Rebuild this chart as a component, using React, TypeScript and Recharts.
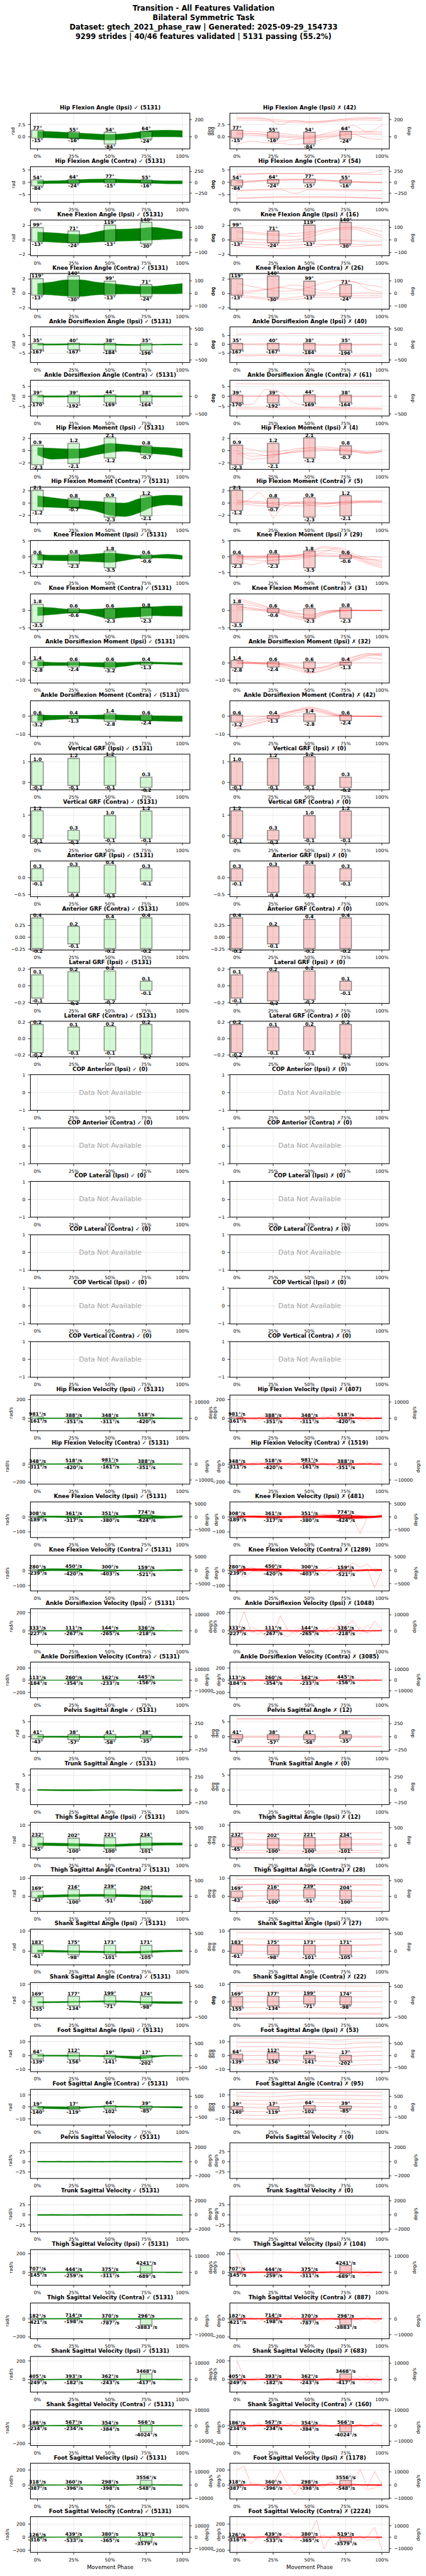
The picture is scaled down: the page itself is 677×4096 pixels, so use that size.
import React from 'react';
import { Area, CartesianGrid, ComposedChart, Label, Line, ReferenceArea, XAxis, YAxis } from 'recharts';

const ROW_NAMES = [
  'Hip Flexion Angle (Ipsi)', 'Hip Flexion Angle (Contra)', 'Knee Flexion Angle (Ipsi)', 'Knee Flexion Angle (Contra)',
  'Ankle Dorsiflexion Angle (Ipsi)', 'Ankle Dorsiflexion Angle (Contra)', 'Hip Flexion Moment (Ipsi)', 'Hip Flexion Moment (Contra)',
  'Knee Flexion Moment (Ipsi)', 'Knee Flexion Moment (Contra)', 'Ankle Dorsiflexion Moment (Ipsi)', 'Ankle Dorsiflexion Moment (Contra)',
  'Vertical GRF (Ipsi)', 'Vertical GRF (Contra)', 'Anterior GRF (Ipsi)', 'Anterior GRF (Contra)', 'Lateral GRF (Ipsi)', 'Lateral GRF (Contra)',
  'COP Anterior (Ipsi)', 'COP Anterior (Contra)', 'COP Lateral (Ipsi)', 'COP Lateral (Contra)', 'COP Vertical (Ipsi)', 'COP Vertical (Contra)',
  'Hip Flexion Velocity (Ipsi)', 'Hip Flexion Velocity (Contra)', 'Knee Flexion Velocity (Ipsi)', 'Knee Flexion Velocity (Contra)',
  'Ankle Dorsiflexion Velocity (Ipsi)', 'Ankle Dorsiflexion Velocity (Contra)', 'Pelvis Sagittal Angle', 'Trunk Sagittal Angle',
  'Thigh Sagittal Angle (Ipsi)', 'Thigh Sagittal Angle (Contra)', 'Shank Sagittal Angle (Ipsi)', 'Shank Sagittal Angle (Contra)',
  'Foot Sagittal Angle (Ipsi)', 'Foot Sagittal Angle (Contra)', 'Pelvis Sagittal Velocity', 'Trunk Sagittal Velocity',
  'Thigh Sagittal Velocity (Ipsi)', 'Thigh Sagittal Velocity (Contra)', 'Shank Sagittal Velocity (Ipsi)', 'Shank Sagittal Velocity (Contra)',
  'Foot Sagittal Velocity (Ipsi)', 'Foot Sagittal Velocity (Contra)',
];

// ang: deg labels on rad axis, vel: deg/s labels on rad/s axis, mom/grf: raw, cop: no data
const KINDS = [
  'ang', 'ang', 'ang', 'ang', 'ang', 'ang', 'mom', 'mom', 'mom', 'mom', 'mom', 'mom',
  'grf', 'grf', 'grf', 'grf', 'grf', 'grf', 'cop', 'cop', 'cop', 'cop', 'cop', 'cop',
  'vel', 'vel', 'vel', 'vel', 'vel', 'vel', 'ang', 'ang', 'ang', 'ang', 'ang', 'ang', 'ang', 'ang',
  'vel', 'vel', 'vel', 'vel', 'vel', 'vel', 'vel', 'vel',
];

const PASS_COUNTS = [
  5131, 5131, 5131, 5131, 5131, 5131, 5131, 5131, 5131, 5131, 5131, 5131, 5131, 5131, 5131, 5131, 5131, 5131,
  0, 0, 0, 0, 0, 0,
  5131, 5131, 5131, 5131, 5131, 5131, 5131, 5131, 5131, 5131, 5131, 5131, 5131, 5131, 5131, 5131, 5131, 5131, 5131, 5131, 5131, 5131,
];

const FAIL_COUNTS = [
  42, 54, 16, 26, 40, 61, 4, 5, 29, 31, 32, 42, 0, 0, 0, 0, 0, 0, 0, 0, 0, 0, 0, 0,
  407, 1519, 481, 1289, 1048, 3085, 12, 0, 12, 28, 27, 22, 53, 95, 0, 0, 104, 887, 683, 160, 1178, 2224,
];

const Y_DOMAINS = [
  [-2.43, 4.78], [-8.07, 6.31], [-2.2, 2.75], [-2.18, 2.77], [-10.3, 9.8], [-9.9, 7.95],
  [-3.1, 2.73], [-3.27, 2.56], [-6.06, 5.2], [-5.45, 4.87], [-11.5, 9.1], [-11, 8.55],
  [-0.35, 1.37], [-0.36, 1.37], [-0.565, 0.5], [-0.273, 0.484], [-0.212, 0.216], [-0.224, 0.214],
  [-1, 1], [-1, 1], [-1, 1], [-1, 1], [-1, 1], [-1, 1],
  [-131, 250], [-220, 174], [-137, 100], [-136, 99], [-150, 242], [-289, 294],
  [-4.9, 7.05], [-5, 7], [-6.4, 11.25], [-8.5, 11.3], [-6.57, 11.07], [-9.2, 11.1], [-11.4, 14.35], [-15.1, 14.7],
  [-41, 46.8], [-41.8, 46.5], [-138, 245], [-220, 174], [-136, 247], [-224, 176], [-187, 287], [-235, 310],
];

const Y_TICKS = [
  [0, 2.5], [-5, 0, 5], [-2, 0, 2], [-2, 0, 2], [-5, 0, 5], [-5, 0, 5],
  [-2, 0, 2], [-2, 0, 2], [-5, 0, 5], [-5, 0], [-10, 0], [-10, 0],
  [0, 1], [0, 1], [-0.5, 0], [-0.25, 0, 0.25], [-0.2, 0, 0.2], [-0.2, 0, 0.2],
  [-1, 0, 1], [-1, 0, 1], [-1, 0, 1], [-1, 0, 1], [-1, 0, 1], [-1, 0, 1],
  [0, 200], [-200, 0], [-100, 0], [-100, 0], [0, 200], [-200, 0, 200],
  [0, 5], [0, 5], [0, 10], [0, 10], [0, 10], [0, 10], [-10, 0, 10], [-10, 0, 10],
  [-25, 0, 25], [-25, 0, 25], [0, 200], [-200, 0], [0, 200], [-200, 0], [0, 200], [-200, 0, 200],
];

const TICK_DECIMALS = [
  1, 0, 0, 0, 0, 0, 0, 0, 0, 0, 0, 0, 0, 0, 1, 2, 1, 1, 0, 0, 0, 0, 0, 0,
  0, 0, 0, 0, 0, 0, 0, 0, 0, 0, 0, 0, 0, 0, 0, 0, 0, 0, 0, 0, 0, 0,
];

const DEG_TICKS = [
  [0, 200], [-250, 0, 250], [-100, 0, 100], [-100, 0, 100], [-500, 0, 500], [-500, 0],
  [], [], [], [], [], [], [], [], [], [], [], [], [], [], [], [], [], [],
  [0, 10000], [-10000, 0], [-5000, 0, 5000], [-5000, 0, 5000], [0, 10000], [-10000, 0, 10000],
  [-250, 0, 250], [-250, 0, 250], [0, 500], [0, 500], [0, 500], [-500, 0, 500], [-500, 0, 500], [-500, 0, 500],
  [-2000, 0, 2000], [-2000, 0, 2000], [0, 10000], [-10000, 0], [0, 10000], [-10000, 0, 10000], [-10000, 0, 10000], [-10000, 0, 10000],
];

const BOX_PHASES = [0, 25, 50, 75];

const BOX_HI = [
  [77, 55, 54, 64], [54, 64, 77, 55], [99, 71, 119, 140], [119, 140, 99, 71], [35, 40, 38, 35], [39, 39, 44, 38],
  [0.9, 1.2, 2.1, 0.8], [2.1, 0.8, 0.9, 1.2], [0.6, 0.8, 1.8, 0.6], [1.8, 0.6, 0.6, 0.8], [1.4, 0.6, 0.6, 0.4], [0.6, 0.4, 1.4, 0.6],
  [1.0, 1.16, 1.24, 0.26], [1.21, 0.26, 0.98, 1.2], [0.27, 0.33, 0.38, 0.27], [0.41, 0.23, 0.38, 0.41], [0.133, 0.17, 0.179, 0.056], [0.175, 0.143, 0.152, 0.175],
  [], [], [], [], [], [],
  [981, 388, 348, 518], [348, 518, 981, 388], [308, 361, 351, 774], [280, 450, 300, 159], [333, 111, 144, 336], [113, 260, 162, 445],
  [41, 38, 41, 38], [], [232, 202, 221, 234], [169, 216, 239, 204], [183, 175, 173, 171], [169, 177, 199, 174], [64, 112, 19, 17], [19, 17, 64, 39],
  [], [], [707, 444, 375, 4241], [182, 714, 370, 296], [405, 393, 362, 3468], [186, 567, 354, 566], [318, 360, 298, 3556], [126, 439, 380, 519],
];

const BOX_LO = [
  [-15, -16, -84, -24], [-84, -24, -15, -16], [-13, -24, -13, -30], [-13, -30, -13, -24], [-167, -167, -184, -196], [-170, -192, -169, -164],
  [-2.3, -2.1, -1.2, -0.7], [-1.2, -0.7, -2.3, -2.1], [-2.3, -2.3, -3.5, -0.6], [-3.5, -0.6, -2.3, -2.3], [-2.8, -2.4, -3.2, -1.3], [-3.2, -1.3, -2.8, -2.4],
  [-0.14, -0.14, -0.14, -0.24], [-0.14, -0.21, -0.12, -0.12], [-0.1, -0.44, -0.47, -0.1], [-0.24, -0.14, -0.24, -0.24], [-0.146, -0.18, -0.165, -0.055], [-0.17, -0.148, -0.148, -0.19],
  [], [], [], [], [], [],
  [-161, -351, -311, -420], [-311, -420, -161, -351], [-189, -317, -380, -424], [-239, -420, -403, -521], [-227, -267, -265, -218], [-184, -354, -233, -156],
  [-43, -57, -58, -35], [], [-45, -100, -100, -101], [-43, -100, -51, -100], [-61, -98, -101, -105], [-155, -134, -71, -98], [-139, -156, -141, -202], [-140, -119, -102, -85],
  [], [], [-145, -259, -311, -689], [-421, -198, -787, -3883], [-249, -182, -243, -417], [-234, -234, -384, -4024], [-387, -396, -398, -548], [-316, -533, -365, -3579],
];

// passing-stride envelope, 11 phase samples (0..100%)
const BAND_HI = [
  [1.15, 1.05, 0.9, 0.75, 0.6, 0.5, 0.65, 1.0, 1.3, 1.35, 1.25],
  [0.5, 0.6, 0.8, 1.1, 1.3, 1.3, 1.2, 1.0, 0.8, 0.6, 0.6],
  [1.1, 1.0, 0.85, 0.75, 1.1, 1.45, 1.5, 1.6, 1.75, 1.5, 1.15],
  [1.4, 1.6, 1.9, 1.9, 1.6, 1.4, 1.2, 1.0, 1.0, 1.2, 1.4],
  [0.3, 0.3, 0.4, 0.4, 0.3, 0.3, 0.1, 0.0, 0.1, 0.2, 0.2],
  [0.3, 0.3, 0.3, 0.3, 0.4, 0.4, 0.3, 0.3, 0.3, 0.3, 0.3],
  [0.5, 0.4, 0.3, 0.3, 0.7, 1.2, 1.0, 0.8, 0.6, 0.5, 0.3],
  [1.2, 0.9, 0.6, 0.4, 0.3, 0.1, 0.0, 0.7, 1.1, 1.3, 1.2],
  [0.8, 0.5, 0.5, 0.6, 0.9, 1.2, 0.8, 0.4, 0.5, 0.8, 0.4],
  [1.0, 0.8, 0.4, 0.3, 0.4, 0.6, 0.8, 1.0, 1.1, 1.3, 1.3],
  [0.8, 0.3, 0.2, 0.2, 0.2, 0.2, 0.3, 0.6, 0.5, 0.3, 0.2],
  [0.8, 0.5, 0.5, 0.5, 0.6, 0.8, 0.6, 0.4, 0.3, 0.2, 0.1],
  [], [], [], [], [], [], [], [], [], [], [], [],
  [4, 5, 5, 4, 4, 4, 5, 6, 6, 5, 4],
  [4, 5, 6, 6, 5, 4, 4, 4, 5, 5, 4],
  [5, 6, 5, 4, 4, 5, 9, 12, 9, 5, 9],
  [5, 11, 10, 9, 5, 2, 3, 3, 3, 5, 7],
  [3, 3, 3, 3, 3, 3, 4, 6, 5, 4, 3],
  [3, 3, 4, 4, 3, 3, 3, 3, 3, 3, 3],
  [0.25, 0.2, 0.2, 0.15, 0.15, 0.15, 0.15, 0.2, 0.2, 0.2, 0.2],
  [0.2, 0.15, 0.1, 0.1, 0.15, 0.2, 0.2, 0.15, 0.1, 0.15, 0.2],
  [1.2, 1.1, 1.0, 0.8, 0.6, 0.5, 0.7, 1.0, 1.2, 1.2, 1.2],
  [0.6, 0.8, 1.0, 1.1, 1.2, 1.1, 1.0, 0.8, 0.6, 0.5, 0.5],
  [0.6, 0.5, 0.3, 0.2, 0.1, 0.0, -0.1, 0.0, 0.3, 0.5, 0.6],
  [0.1, 0.1, 0.3, 0.4, 0.5, 0.6, 0.5, 0.3, 0.2, 0.1, 0.1],
  [0.3, 0.4, 0.4, 0.3, 0.2, 0.1, -0.3, -0.5, 0.0, 0.3, 0.2],
  [0.2, 0.1, 0.0, 0.0, 0.4, 0.6, 0.6, 0.4, 0.3, 0.2, 0.1],
  [1, 1.2, 1, 1.3, 1, 1.1, 1.2, 1, 1.3, 1.1, 1],
  [1.2, 1.4, 1.1, 1.5, 1.3, 1.2, 1.4, 1.6, 1.3, 1.2, 1.1],
  [4, 4, 5, 5, 4, 4, 5, 8, 6, 5, 4],
  [4, 5, 6, 5, 4, 4, 4, 3, 4, 5, 5],
  [4, 4, 5, 5, 4, 4, 5, 7, 6, 5, 4],
  [4, 5, 6, 5, 4, 4, 4, 3, 4, 5, 5],
  [4, 4, 4, 4, 4, 4, 6, 10, 8, 6, 4],
  [4, 4, 6, 5, 4, 4, 4, 4, 5, 5, 4],
];

const BAND_LO = [
  [-0.1, -0.2, -0.3, -0.4, -0.55, -0.65, -0.5, -0.25, 0.0, 0.0, -0.05],
  [-0.6, -0.5, -0.4, -0.2, -0.1, -0.1, -0.2, -0.3, -0.4, -0.6, -0.6],
  [-0.2, -0.3, -0.4, -0.4, -0.3, -0.2, -0.15, -0.1, 0.0, 0.1, 0.2],
  [-0.1, -0.2, -0.35, -0.4, -0.2, -0.1, -0.05, -0.05, -0.05, -0.05, 0.0],
  [-0.4, -0.4, -0.3, -0.2, -0.3, -0.4, -0.6, -0.6, -0.4, -0.3, -0.3],
  [-0.4, -0.4, -0.3, -0.3, -0.3, -0.2, -0.3, -0.3, -0.3, -0.3, -0.3],
  [-0.7, -1.4, -1.3, -1.2, -0.7, -0.3, -0.1, -0.3, -0.5, -0.7, -1.1],
  [-0.6, -0.7, -0.8, -0.9, -1.3, -2.0, -2.2, -1.6, -0.6, -0.3, -0.5],
  [-1.0, -1.2, -1.3, -1.4, -1.6, -1.8, -1.2, -0.5, -0.4, -0.5, -0.8],
  [-1.5, -1.2, -0.8, -0.7, -1.5, -2.3, -2.0, -1.8, -1.5, -1.6, -1.7],
  [-2.0, -1.5, -1.5, -1.6, -2.2, -2.6, -2.0, -0.8, -0.6, -0.8, -1.2],
  [-2.5, -2.0, -1.5, -1.3, -1.5, -1.8, -2.2, -2.4, -2.6, -2.8, -2.9],
  [], [], [], [], [], [], [], [], [], [], [], [],
  [-5, -4, -4, -4, -5, -5, -4, -4, -5, -5, -5],
  [-4, -4, -3, -3, -4, -5, -5, -4, -4, -4, -4],
  [-4, -3, -5, -6, -5, -4, -6, -8, -11, -8, -2],
  [-6, -3, -4, -5, -6, -6, -4, -4, -4, -3, -2],
  [-4, -4, -4, -4, -5, -6, -6, -3, -3, -4, -3],
  [-3, -3, -3, -3, -4, -4, -4, -3, -3, -3, -3],
  [-0.2, -0.2, -0.25, -0.3, -0.3, -0.3, -0.3, -0.25, -0.3, -0.35, -0.35],
  [-0.2, -0.25, -0.3, -0.3, -0.25, -0.2, -0.2, -0.25, -0.35, -0.4, -0.35],
  [0.0, -0.2, -0.3, -0.4, -0.5, -0.6, -0.4, -0.2, 0.0, 0.1, 0.1],
  [-0.5, -0.4, -0.2, -0.1, 0.0, -0.1, -0.2, -0.3, -0.4, -0.5, -0.5],
  [-0.3, -0.4, -0.5, -0.6, -0.7, -0.8, -0.9, -0.9, -0.6, -0.3, -0.2],
  [-0.6, -0.5, -0.4, -0.3, -0.2, -0.2, -0.3, -0.5, -0.8, -1.0, -1.0],
  [-0.4, -0.4, -0.5, -0.5, -0.6, -0.9, -1.8, -2.3, -1.2, -0.4, -0.4],
  [-1.2, -1.6, -1.8, -1.4, -0.5, -0.3, -0.3, -0.5, -0.6, -0.8, -1.0],
  [-1, -1.1, -1.3, -1, -1.2, -1, -1.1, -1.3, -1, -1.2, -1],
  [-1.2, -1.3, -1.5, -1.2, -1.4, -1.3, -1.2, -1.5, -1.4, -1.2, -1.3],
  [-4, -4, -3, -3, -4, -5, -4, -2, -3, -4, -4],
  [-5, -4, -3, -3, -4, -5, -5, -6, -5, -4, -4],
  [-4, -4, -3, -3, -4, -5, -4, -3, -3, -4, -4],
  [-5, -4, -3, -3, -4, -5, -5, -6, -5, -4, -4],
  [-5, -5, -4, -4, -6, -8, -5, -2, -4, -6, -8],
  [-6, -5, -3, -3, -4, -4, -4, -4, -4, -4, -6],
];

// stray passing strides (thin light green), samples spread evenly over 0..100%
const GREEN_LINES: number[][][] = [
  [], [], [], [], [], [], [], [], [], [], [], [], [], [], [], [], [], [], [], [], [], [], [], [],
  [], [], [],
  [[0, 3, 5, 2, 0, -2, 0, 3, 2, 0, -1, 0, 2, 3, 1, 0, -5, -30, -3, 2, -20]],
  [[0, 0, 0, 0, 0, 0, 0, 0, 0, 0, 0, 0, 0, 0, 0, 0, 0, 0, 68, 0, 0]],
  [], [], [], [], [], [], [], [], [],
  [[0, 2, -1, 3, -2, 1, -3, 2, 0, -2, 1, 3, -1, 0, 2, -3, 1, 0, -2, 1, 0]],
  [[0, -2, 3, -1, 4, -2, 1, -4, 2, 0, 3, -3, 1, 2, -1, 0, 3, -2, 1, -1, 0]],
  [], [], [], [],
  [[0, 0, 0, 0, 0, 0, 0, 0, 0, 0, 0, 0, 0, 0, 0, 0, 0, 0, 70, 0, 0]],
  [],
];

// failing strides (thin red), samples spread evenly over 0..100%
const RED_LINES: number[][][] = [
  [
    [3.7, 3.7, 3.6, 3.4, 3.2, 3.0, 3.1, 3.4, 3.6, 3.7, 3.6],
    [3.4, 3.4, 3.3, 3.1, 2.9, 2.8, 2.9, 3.2, 3.4, 3.4, 3.3],
    [3.9, 3.9, 3.7, 2.5, 3.3, 3.1, 3.2, 3.5, 3.8, 3.9, 3.8],
    [1.2, 1.1, 0.9, 0.7, 0.4, 0.2, 0.4, 0.8, 1.1, 1.1, 1.0],
    [0.8, 0.7, 0.5, 0.3, 0.1, -0.1, 0.1, 0.5, 0.8, 0.8, 0.7],
    [0.4, 0.3, 0.2, 0.0, -0.2, -0.3, -0.1, 0.3, 0.5, 0.5, 0.4],
    [-1.5, -0.9, -1.2, -1.3, -1.6, -1.1, -0.5, 0.2, 0.5, -0.3, -0.5],
    [0.6, 0.6, 0.4, -0.9, -0.5, -0.2, 0.6, 1.3, 2.3, 1.0, 2.4],
  ],
  [
    [3.0, 3.2, 3.4, 3.5, 3.5, 3.5, 3.5, 3.4, 3.3, 3.2, 3.1],
    [3.4, 3.5, 3.6, 3.6, 3.6, 3.6, 3.6, 3.6, 3.7, 3.8, 5.0],
    [0.0, 0.4, 0.8, 1.0, 1.1, 1.0, 0.8, 0.5, 0.2, 0.0, -0.1],
    [-0.3, 0.2, 0.6, 0.8, 0.9, 0.8, 0.6, 0.3, 0.0, -0.2, -0.3],
    [0.3, 0.6, 0.9, 1.2, 1.3, 1.2, 1.0, 0.7, 0.4, 0.2, 0.1],
    [-3.3, -3.0, -2.8, -2.6, -2.6, -2.6, -2.7, -2.8, -2.9, -3.1, -3.3],
    [-3.5, -3.3, -3.1, -3.0, -4.5, -3.0, -3.2, -3.3, -3.4, -3.5, -3.4],
    [-6.3, -6.1, -5.9, -5.8, -5.8, -5.8, -5.8, -5.9, -6.0, -6.2, -6.4],
    [-6.6, -6.4, -6.2, -6.1, -6.1, -6.1, -6.1, -6.1, -6.2, -6.4, -6.6],
  ],
  [
    [1.0, 0.9, 0.7, 0.6, 0.5, 0.8, 1.3, 1.6, 1.7, 1.3, 0.6],
    [0.2, 0.1, 0.0, -0.1, 0.0, 0.4, 1.0, 1.4, 1.5, 1.0, 0.3],
    [-0.2, -0.3, -0.4, -0.4, -0.3, -0.2, -0.1, 0.0, -0.1, -0.2, -0.2],
    [-0.6, -0.6, -0.7, -0.8, -0.7, -0.6, -0.6, -0.7, -0.9, -0.8, -0.6],
    [1.2, 1.1, 0.9, 0.8, 0.9, 1.1, 1.4, 1.7, 1.8, 1.6, 1.2],
    [-0.9, -1.0, -1.1, -1.2, -1.1, -1.0, -0.8, -0.6, -0.6, -0.7, -0.8],
  ],
  [
    [-0.2, -0.4, -0.6, -0.7, -0.5, -0.3, -0.2, -0.2, -0.3, -0.3, -0.3],
    [0.0, 0.2, 0.5, 0.8, 0.6, 0.3, 0.1, 0.0, 0.0, 0.1, 0.0],
    [1.4, 1.0, 0.6, 0.3, 0.4, 0.9, 1.5, 1.8, 1.6, 1.2, 0.9],
    [-0.5, -0.6, -0.8, -0.9, -0.8, -0.6, -0.5, -0.5, -0.6, -0.6, -0.5],
    [0.3, 0.4, 0.6, 0.9, 1.2, 0.8, 0.4, 1.1, 1.7, 0.6, 0.2],
  ],
  [
    [5.9, 5.9, 6.0, 6.0, 6.1, 6.1, 6.0, 6.0, 6.0, 6.1, 6.1],
    [0.3, 0.3, 0.4, 0.4, 0.3, 0.2, 0.0, -0.1, 0.1, 0.2, 0.2],
    [-0.3, -0.2, -0.2, -0.1, -0.3, -0.4, -0.6, -0.5, -0.4, -0.3, -0.3],
    [-5.9, -5.9, -5.8, -5.8, -5.9, -6.0, -6.1, -6.2, -6.1, -6.0, -6.0],
    [-6.5, -6.5, -6.4, -6.4, -6.5, -6.6, -6.7, -6.8, -6.7, -6.6, -6.6],
  ],
  [
    [6.3, 6.3, 6.2, 6.2, 6.2, 6.2, 6.2, 6.3, 6.3, 6.3, 6.3],
    [0.2, 0.3, 0.4, 0.4, 0.3, 0.2, 0.1, 0.1, 0.2, 0.2, 0.2],
    [-0.2, -0.1, 0.0, 0.0, -0.1, -0.2, -0.3, -0.3, -0.2, -0.2, -0.2],
    [-5.5, -5.6, -5.6, -5.7, -5.7, -5.8, -5.8, -5.9, -5.9, -5.9, -6.0],
    [-6.3, -6.3, -6.4, -6.4, -6.5, -6.5, -6.5, -6.6, -6.6, -6.6, -6.7],
    [-4.2, -4.0, 3.5, 2.0, -3.5, -4.5, -5.5, -5.6, -5.8, -5.9, -6.0],
  ],
  [
    [0.1, -0.9, -0.8, -0.5, -0.2, 0.1, 0.3, 0.2, 0.0, -0.3, -0.2],
    [-0.3, -1.4, -1.2, -0.6, 0.0, 0.4, 0.2, 0.0, -0.2, -0.5, -0.1],
    [0.5, 0.2, -0.2, -0.1, 0.3, 0.5, 0.6, 0.4, 0.2, -0.2, 0.2],
    [-0.5, -0.4, -0.8, -0.5, -0.3, -0.1, 0.0, 0.1, -0.1, -0.4, 0.0],
  ],
  [
    [0.0, 0.2, 0.8, 1.7, 0.5, -2.4, -1.0, -0.3, 0.0, 0.2, 0.2, 0.1, 0.0, 0.0, 0.1, 0.2, 0.2, 0.3, 0.2, 0.2, 0.2],
    [0.3, 0.2, 0.0, -0.3, -0.5, -0.4, -0.2, 0.0, 0.2, 0.3, 0.4],
    [-0.2, -0.3, -0.5, -0.2, 0.0, -0.3, -0.6, -0.3, 0.0, 0.1, 0.2],
    [0.1, 0.0, -0.1, 0.1, 0.2, 0.1, 0.0, 0.2, 0.4, 0.4, 0.3],
    [0.5, 0.3, 0.2, 0.0, 0.0, -0.1, -0.1, 0.0, 0.1, 0.2, 0.1],
  ],
  [
    [0.0, -0.3, -0.2, 0.0, 0.3, 1.5, 3.2, 2.5, 0.5, -1.5, -2.5],
    [-0.2, -0.5, -0.4, -0.2, 0.2, 1.2, 2.8, 2.0, 0.0, -1.8, -3.0],
    [0.2, 0.0, 0.1, 0.2, 0.5, 1.0, 2.0, 1.5, 0.3, -1.0, -2.0],
    [-0.5, -1.0, -1.2, -1.0, -0.8, -0.2, 1.0, 0.8, -0.5, -2.2, -3.5],
    [0.0, 0.1, 0.0, -0.1, 0.0, 0.5, 1.5, 2.8, 1.0, -0.5, -1.5],
    [-1.0, -2.5, -1.5, -0.8, -0.3, 0.0, 0.5, 0.2, -0.2, -0.8, -1.0],
    [0.3, 0.2, 0.3, 0.3, 0.4, 0.3, 0.2, 0.1, 0.0, 0.0, -0.2],
  ],
  [
    [3.0, 2.0, 1.0, 0.0, -1.0, -2.2, -0.5, 0.0, 0.0, 0.1, 0.0],
    [2.0, 1.5, 0.5, -0.5, -1.5, -2.6, -1.0, -0.2, 0.0, 0.0, 0.0],
    [1.0, 0.8, 0.0, -0.8, -1.8, -2.0, -0.8, -0.1, 0.1, 0.0, 0.0],
    [3.5, 2.5, 1.2, 0.3, -0.5, -1.5, -0.3, 0.1, 0.2, 0.1, 0.1],
    [0.5, 0.3, -0.3, -1.0, -2.2, -2.8, -1.2, -0.3, 0.0, 0.0, 0.0],
    [1.5, 0.5, 0.2, -0.2, -0.8, -1.2, -0.4, 0.0, 0.0, 0.0, 0.0],
  ],
  [
    [0.5, 0.0, -0.3, -0.5, -2.0, -4.5, -3.0, -1.0, 2.0, 4.5, 5.0],
    [1.0, 0.2, 0.0, -1.0, -3.0, -5.5, -4.0, -1.5, 1.5, 4.0, 4.5],
    [0.0, -0.2, -0.5, -1.0, -2.5, -3.5, -2.0, 0.0, 3.0, 5.5, 4.0],
    [2.5, 0.5, -0.2, -0.5, -1.5, -3.0, -2.5, 0.5, 3.5, 5.0, 5.5],
    [0.0, 0.0, 0.0, 0.0, 0.0, 0.0, 0.0, 0.0, 0.0, 0.0, 0.0],
    [-0.5, -0.5, -1.0, -2.0, -4.0, -6.0, -4.5, -2.0, 1.0, 3.0, 2.0],
  ],
  [
    [-5.0, -3.5, -1.5, 0.5, 3.0, 4.5, 3.0, 0.5, 0.0, 0.0, 0.0],
    [-6.5, -4.5, -2.5, 0.0, 2.5, 4.0, 2.0, 0.2, 0.0, 0.0, 0.0],
    [-3.5, -2.5, -1.0, 1.0, 3.5, 5.0, 3.5, 1.0, 0.1, 0.0, 0.0],
    [-7.0, -5.0, -3.0, -1.0, 1.5, 3.0, 1.5, 0.0, 0.0, 0.0, -0.5],
    [-2.5, -1.5, 0.0, 1.5, 3.0, 3.5, 2.5, 0.5, 0.0, 0.0, 0.0],
    [0.0, 0.0, 0.0, 0.0, 0.0, 0.0, 0.0, 0.0, 0.0, 0.0, -0.3],
  ],
  [], [], [], [], [], [], [], [], [], [], [], [],
  [
    [0, 15, -20, 10, 30, -10, 0, 20, -30, 10, 0, -15, 25, 0, -20, 10, 40, -25, 15, 0, 10],
    [10, -10, 5, -25, 0, 20, -15, 0, 10, -20, 15, 0, -10, 30, 0, -15, 0, 20, -30, 10, 0],
  ],
  [
    [0, -20, 10, 25, -10, 0, 15, -30, 0, 20, -10, 35, 0, -20, 10, 0, -25, 15, 0, 30, -10],
    [5, 10, -15, 0, 20, -25, 0, 10, 30, -10, 0, -20, 15, 0, -30, 20, 0, -10, 25, -15, 0],
  ],
  [
    [0, 2, 5, -8, 3, 0, -20, 5, 10, -5, 0, 8, 15, 20, 5, 0, -10, -112, 0, 5, 10],
    [5, 10, -5, 0, 3, -15, 10, 0, -5, 10, 15, -5, 0, 10, -5, 10, 25, 5, -5, 0, 15],
    [0, -5, 8, 10, 0, 5, -10, -15, 5, 0, -5, 10, 20, 0, -10, -5, 0, 10, 5, -5, 0],
  ],
  [
    [0, -45, -10, 5, 0, 60, -5, 0, 5, -30, -10, 5, -35, 0, 5, 10, 50, 20, 40, -10, 0],
    [5, 20, 0, -10, 5, 0, -15, 10, 0, -25, 0, 10, 5, 20, -20, 0, -15, 0, 10, -115, 0],
    [0, 10, 20, 5, -5, 15, 5, -10, 15, 0, 20, -5, 0, -10, 10, 30, 0, -10, 0, 10, 5],
  ],
  [
    [0, 210, -20, 10, 0, -40, 165, 0, -30, 10, 0, -10, 20, -50, 10, 60, 110, 0, -20, 105, 10],
    [10, -30, 40, 0, -60, 10, 0, 20, -10, 0, -40, 30, -20, 0, 80, 20, -60, 40, -30, 10, 0],
    [-10, 20, 0, -40, 30, 0, -20, -70, 10, 30, 0, -30, 0, 40, 0, -80, 30, -40, 60, -10, 15],
  ],
  [
    [0, 10, -20, 15, 0, -10, 20, -15, 30, 100, -130, 40, -20, 10, 30, -10, 40, 0, -20, 10, 0],
    [5, -10, 15, 0, -20, 10, 0, 20, -10, 0, 40, -30, 0, 20, -10, 30, 0, -15, 10, -5, 5],
  ],
  [
    [6.1, 6.1, 6.1, 6.1, 6.1, 6.1, 6.1, 6.1, 6.1, 6.2, 6.2],
    [5.8, 5.8, 5.8, 5.9, 5.9, 5.9, 5.9, 5.9, 5.9, 5.9, 6.0],
    [0.2, 0.2, 0.2, 0.1, 0.1, 0.1, 0.1, 0.1, 0.2, 0.2, 0.2],
    [-0.2, -0.2, -0.2, -0.2, -0.3, -0.3, -0.3, -0.2, -0.2, -0.2, -0.2],
    [-3.2, -3.2, -3.2, -3.2, -3.2, -3.2, -3.2, -3.2, -3.2, -3.2, -3.2],
    [-3.4, -3.4, -3.4, -3.4, -3.5, -3.5, -3.5, -3.4, -3.4, -3.4, -3.4],
  ],
  [],
  [
    [6.2, 6.1, 6.0, 6.0, 5.9, 5.9, 6.0, 6.1, 6.2, 6.2, 6.2],
    [3.0, 2.9, 2.8, 2.8, 2.7, 2.7, 2.8, 2.9, 3.0, 3.0, 3.0],
    [0.8, 0.7, 0.6, 0.5, 0.3, 0.2, 0.4, 0.6, 0.8, 0.9, 0.9],
    [-2.5, -2.6, -2.7, -2.7, -2.8, -2.9, -2.8, -2.7, -2.6, -2.5, -2.5],
    [-3.6, -3.7, -3.7, -3.8, -3.9, -3.9, -3.8, -3.7, -3.6, -3.6, -3.6],
    [0.2, 0.1, 0.0, -0.1, -0.2, -0.3, -0.1, 0.1, 0.3, 0.3, 0.3],
  ],
  [
    [9.4, 9.4, 9.5, 9.5, 9.5, 9.5, 9.4, 9.4, 9.3, 9.3, 9.3],
    [6.3, 6.4, 6.5, 6.5, 6.5, 6.5, 6.4, 6.3, 6.3, 6.2, 6.2],
    [6.6, 6.7, 6.8, 6.8, 6.8, 6.7, 6.6, 6.6, 6.5, 6.5, 6.5],
    [3.2, 3.3, 3.4, 3.4, 3.4, 3.4, 3.3, 3.2, 3.1, 3.1, 3.1],
    [0.1, 0.3, 0.5, 0.6, 0.6, 0.6, 0.5, 0.3, 0.2, 0.1, 0.1],
    [-3.2, -3.0, -2.9, -2.8, -2.8, -2.8, -2.9, -3.0, -3.1, -3.2, -3.2],
    [-6.4, -6.2, -6.1, -6.0, -6.0, -6.0, -6.1, -6.2, -6.3, -6.4, -6.4],
  ],
  [
    [9.2, 9.2, 9.1, 9.0, 9.0, 8.9, 8.9, 8.9, 9.0, 9.1, 9.2],
    [6.1, 6.1, 6.0, 5.9, 5.9, 5.8, 5.8, 5.8, 5.9, 6.0, 6.1],
    [3.0, 3.0, 2.9, 2.8, 2.8, 2.7, 2.7, 2.7, 2.8, 2.9, 3.0],
    [3.4, 3.3, 3.2, 3.1, 3.1, 3.0, 3.0, 3.1, 3.2, 3.3, 3.5],
    [0.1, 0.0, -0.1, -0.2, -0.3, -0.4, -0.5, -0.5, -0.3, -0.1, 0.0],
    [-3.2, -3.3, -3.4, -3.5, -3.5, -3.6, -3.7, -3.7, -3.5, -3.4, -3.3],
  ],
  [
    [9.0, 9.0, 9.0, 9.1, 9.1, 9.1, 9.0, 9.0, 8.9, 8.9, 9.0],
    [6.0, 6.0, 6.0, 6.1, 6.1, 6.1, 6.0, 6.0, 5.9, 5.9, 6.0],
    [3.0, 3.0, 3.0, 3.1, 3.1, 3.1, 3.0, 3.0, 2.9, 2.9, 3.0],
    [-0.1, -0.1, 0.0, 0.1, 0.2, 0.2, 0.1, 0.0, -0.1, -0.2, -0.1],
    [-3.3, -3.3, -3.2, -3.1, -3.1, -3.1, -3.2, -3.3, -3.4, -3.4, -3.3],
    [-6.4, -6.4, -6.3, -6.2, -6.2, -6.2, -6.3, -6.4, -6.5, -6.5, -6.4],
    [-7.0, -7.0, -6.9, -6.8, -6.8, -6.8, -6.9, -7.0, -7.1, -7.1, -7.0],
  ],
  [
    [12.6, 12.7, 12.7, 12.6, 12.4, 12.2, 11.6, 11.2, 12.0, 12.5, 12.6],
    [9.4, 9.5, 9.5, 9.4, 9.2, 9.0, 8.4, 8.0, 8.8, 9.3, 9.4],
    [6.3, 6.4, 6.4, 6.3, 6.1, 5.9, 5.3, 4.9, 5.7, 6.2, 6.3],
    [3.1, 3.2, 3.2, 3.1, 2.9, 2.7, 2.1, 1.7, 2.5, 3.0, 3.1],
    [0.1, 0.2, 0.2, 0.1, -0.1, -0.3, -0.9, -1.3, -0.5, 0.0, 0.1],
    [-3.1, -3.0, -3.0, -3.1, -3.3, -3.5, -4.1, -4.5, -3.7, -3.2, -3.1],
    [-6.3, -6.2, -6.2, -6.3, -6.5, -6.7, -7.3, -7.7, -6.9, -6.4, -6.3],
  ],
  [
    [12.1, 11.8, 11.6, 11.9, 12.6, 12.9, 12.9, 12.7, 12.6, 12.4, 12.2],
    [8.9, 8.6, 8.4, 8.7, 9.4, 9.7, 9.7, 9.5, 9.4, 9.2, 9.0],
    [5.8, 5.5, 5.3, 5.6, 6.3, 6.6, 6.6, 6.4, 6.3, 6.1, 5.9],
    [2.6, 2.3, 2.1, 2.4, 3.1, 3.4, 3.4, 3.2, 3.1, 2.9, 2.7],
    [-0.5, -0.8, -1.0, -0.7, 0.0, 0.3, 0.3, 0.1, 0.0, -0.2, -0.4],
    [-3.6, -3.9, -4.1, -3.8, -3.1, -2.8, -2.8, -3.0, -3.1, -3.3, -3.5],
    [-6.8, -7.1, -7.3, -7.0, -6.3, -6.0, -6.0, -6.2, -6.3, -6.5, -6.7],
    [-9.9, -10.2, -10.4, -10.1, -9.4, -9.1, -9.1, -9.3, -9.4, -9.6, -9.8],
  ],
  [], [],
  [
    [200, 10, -10, 20, 0, -15, 10, 0, -20, 15, 0, -10, 20, -5, 10, -30, 15, 25, -40, 10, 5],
    [0, -20, 15, 0, 10, -10, 0, 25, 0, -15, 20, 0, -10, 15, -20, 5, 40, -20, 10, -5, 0],
  ],
  [
    [0, -10, 20, -30, 10, 0, -20, 40, -10, 0, 25, -35, 10, 0, -15, 20, -25, 10, 0, -10, 5],
    [5, 15, -10, 0, -25, 20, 0, -15, 30, -20, 0, 10, -30, 20, 0, -10, 15, -20, 30, -40, 0],
  ],
  [
    [200, 20, -10, 0, 15, -20, 10, 0, -15, 20, 0, -10, 15, 0, -20, 10, 30, -20, 40, -50, 20],
    [0, -15, 10, 25, -10, 0, -25, 15, 0, -10, 20, -15, 0, 25, -10, 0, -20, 35, -40, 30, -30],
  ],
  [
    [0, 15, -20, 10, 0, -30, 20, -10, 40, -50, 10, 0, 20, -15, 0, 30, -20, 10, -10, 25, 0],
    [10, -10, 0, 25, -15, 0, -20, 30, -10, 0, -40, 20, 0, -10, 15, -25, 0, 20, -30, 40, -10],
  ],
  [
    [200, 250, 0, 20, -20, 10, 190, 0, -130, 40, 0, -20, 10, 30, -20, 0, 60, 210, -30, 180, 10],
    [0, -20, 30, 0, -30, 20, 0, -60, 10, -40, 20, 0, -30, 40, 0, -50, 20, 0, -60, -40, 20],
  ],
  [
    [0, -10, -100, 20, 0, 30, -30, 60, -20, 10, 40, 260, -180, 30, 0, -20, 20, -40, 10, 150, -190],
    [10, 20, 0, -30, 40, -10, 50, 0, -40, 20, -50, 0, 30, -20, 50, 0, -30, 20, -50, -30, 0],
  ],
];

const TITLE_LINES = [
  'Transition - All Features Validation',
  'Bilateral Symmetric Task',
  'Dataset: gtech_2021_phase_raw | Generated: 2025-09-29_154733',
  '9299 strides | 40/46 features validated | 5131 passing (55.2%)',
];

const PHASE_TICKS = [0, 25, 50, 75, 100];

const S = 677 / 1301;
const R2D = 180 / Math.PI;
const FONT = '"DejaVu Sans", Verdana, sans-serif';
const PLOT_LEFT = [93 * S, 702 * S];
const PW = 487 * S;
const PH = 109 * S;
const rowTop = (r: number) => (346 + r * 163.2) * S;
const WL = 44;
const WR = 44;
const HX = 20;
const MT = 14;
const FS_TICK = 7.4;

const tickStyle = { fontSize: FS_TICK, fill: '#000', fontFamily: FONT };

function fmtTick(v: number, dec: number) {
  return (v < 0 ? '\u2212' : '') + Math.abs(v).toFixed(dec);
}

function textW(s: string, fs: number) {
  let w = 0;
  for (const ch of s) w += ch === '.' ? 0.318 : ch === '\u2212' ? 0.838 : ch === '%' ? 0.95 : 0.636;
  return w * fs;
}

function boxLabel(kind: string, v: number) {
  if (kind === 'ang') return `${Math.round(v)}°`;
  if (kind === 'vel') return `${Math.round(v)}°/s`;
  return v.toFixed(1);
}

function toAxis(kind: string, v: number) {
  return kind === 'ang' || kind === 'vel' ? v / R2D : v;
}

function Panel({ row, col }: { row: number; col: number }) {
  const kind = KINDS[row];
  const [lo, hi] = Y_DOMAINS[row];
  const degTicks = DEG_TICKS[row];
  const hasDeg = degTicks.length > 0;
  const pass = col === 0;
  const dec = TICK_DECIMALS[row];
  const bandHi = BAND_HI[row];
  const band = bandHi.map((h, i) => ({ x: (i * 100) / (bandHi.length - 1), r: [BAND_LO[row][i], h] }));
  const showBand = band.length > 0 && (pass || FAIL_COUNTS[row] >= 100);
  const lines = pass ? GREEN_LINES[row] : RED_LINES[row];
  const spiky = kind === 'vel';

  return (
    <div style={{ position: 'absolute', left: PLOT_LEFT[col] - WL, top: rowTop(row) - MT }}>
      <ComposedChart width={WL + PW + WR} height={MT + PH + HX} margin={{ top: MT, bottom: 0, left: 0, right: hasDeg ? 0 : WR }}>
        <CartesianGrid yAxisId="L" stroke="#e3e3e3" strokeWidth={0.8} />
        <XAxis
          type="number"
          dataKey="x"
          domain={[-5, 105]}
          ticks={PHASE_TICKS}
          interval={0}
          allowDataOverflow
          tickFormatter={(v) => `${v}%`}
          height={HX}
          tickSize={3.5}
          tickMargin={5.5}
          axisLine={false}
          tickLine={{ stroke: '#000', strokeWidth: 0.8 }}
          tick={tickStyle}
        />
        <YAxis
          yAxisId="L"
          type="number"
          domain={[lo, hi]}
          ticks={Y_TICKS[row]}
          interval={0}
          allowDataOverflow
          tickFormatter={(v) => fmtTick(v, dec)}
          width={WL}
          tickSize={3.5}
          tickMargin={4.3}
          axisLine={false}
          tickLine={{ stroke: '#000', strokeWidth: 0.8 }}
          tick={tickStyle}
        />
        {hasDeg && (
          <YAxis
            yAxisId="R"
            orientation="right"
            type="number"
            domain={[lo * R2D, hi * R2D]}
            ticks={degTicks}
            interval={0}
            allowDataOverflow
            tickFormatter={(v) => fmtTick(v, 0)}
            width={WR}
            tickSize={3.5}
            tickMargin={4.3}
            axisLine={false}
            tickLine={{ stroke: '#000', strokeWidth: 0.8 }}
            tick={tickStyle}
          />
        )}
        {showBand && (
          <Area
            yAxisId="L"
            data={band}
            dataKey="r"
            type="monotone"
            fill={pass ? '#008000' : '#ff0000'}
            fillOpacity={1}
            stroke={pass ? '#008000' : '#ff0000'}
            strokeWidth={0.5}
            dot={false}
            activeDot={false}
            isAnimationActive={false}
          />
        )}
        {lines.map((ln, k) => (
          <Line
            key={k}
            yAxisId="L"
            data={ln.map((y, i) => ({ x: (i * 100) / (ln.length - 1), y }))}
            dataKey="y"
            type={spiky ? 'linear' : 'monotone'}
            stroke={pass ? '#008000' : '#ff0000'}
            strokeOpacity={pass ? 0.25 : 0.45}
            strokeWidth={0.6}
            dot={false}
            activeDot={false}
            isAnimationActive={false}
          />
        ))}
        {BOX_HI[row].map((bh, k) => (
          <ReferenceArea
            key={`b${k}`}
            yAxisId="L"
            x1={BOX_PHASES[k] - 4}
            x2={BOX_PHASES[k] + 4}
            y1={toAxis(kind, BOX_LO[row][k])}
            y2={toAxis(kind, bh)}
            ifOverflow="visible"
            fill={pass ? '#90ee90' : '#f08080'}
            fillOpacity={0.4}
            stroke="#000"
            strokeOpacity={0.45}
            strokeWidth={1.4}
            zIndex={800}
          >
            <Label value={boxLabel(kind, bh)} position="top" offset={1.5} fontSize={7.6} fontWeight="bold" fill="#000" fontFamily={FONT} />
            <Label value={boxLabel(kind, BOX_LO[row][k])} position="bottom" offset={1.2} fontSize={7.6} fontWeight="bold" fill="#000" fontFamily={FONT} />
          </ReferenceArea>
        ))}
      </ComposedChart>
    </div>
  );
}

function PanelText({ row, col }: { row: number; col: number }) {
  const left = PLOT_LEFT[col];
  const top = rowTop(row);
  const kind = KINDS[row];
  const pass = col === 0;
  const title = `${ROW_NAMES[row]} ${pass ? '\u2713' : '\u2717'} (${pass ? PASS_COUNTS[row] : FAIL_COUNTS[row]})`;
  const dec = TICK_DECIMALS[row];
  const maxL = Math.max(...Y_TICKS[row].map((t) => textW(fmtTick(t, dec), FS_TICK)));
  const degTicks = DEG_TICKS[row];
  const maxR = degTicks.length ? Math.max(...degTicks.map((t) => textW(fmtTick(t, 0), FS_TICK))) : 0;
  const unit = kind === 'ang' ? 'deg' : kind === 'vel' ? 'deg/s' : '';
  const leftUnit = kind === 'ang' ? (pass ? 'rad' : 'deg') : kind === 'vel' ? (pass ? 'rad/s' : 'deg/s') : '';
  const cy = top + PH / 2;
  const lx = left - 7.8 - maxL - 8.5;
  const rx = left + PW + 7.8 + maxR + 8.5;
  return (
    <g>
      <text x={left + PW / 2} y={top - 6.1} textAnchor="middle" fontSize={8.7} fontWeight="bold" fill="#000">
        {title}
      </text>
      <rect x={left} y={top} width={PW} height={PH} fill="none" stroke="#000" strokeWidth={1} />
      {leftUnit && (
        <text x={lx} y={cy} transform={`rotate(-90 ${lx} ${cy})`} textAnchor="middle" dominantBaseline="central" fontSize={7.4} fill="#000">
          {leftUnit}
        </text>
      )}
      {unit && degTicks.length > 0 && (
        <text x={rx} y={cy} transform={`rotate(-90 ${rx} ${cy})`} textAnchor="middle" dominantBaseline="central" fontSize={7.4} fill="#000">
          {unit}
        </text>
      )}
      {kind === 'cop' && (
        <text x={left + PW / 2} y={cy} textAnchor="middle" dominantBaseline="central" fontSize={10.7} fill="#a3a3a3">
          Data Not Available
        </text>
      )}
    </g>
  );
}

export default function App() {
  const baselines = [17.2, 32, 46.8, 61.7];
  return (
    <div style={{ position: 'absolute', left: 0, top: 0, width: 677, height: 4096, background: '#fff', overflow: 'hidden', fontFamily: FONT }}>
      {ROW_NAMES.map((_, r) => [0, 1].map((c) => <Panel key={`${r}-${c}`} row={r} col={c} />))}
      <svg width={677} height={4096} style={{ position: 'absolute', left: 0, top: 0, pointerEvents: 'none' }} fontFamily={FONT}>
        {TITLE_LINES.map((t, i) => (
          <text key={i} x={323.5} y={baselines[i]} textAnchor="middle" fontSize={11.55} fontWeight="bold" fill="#000">
            {t}
          </text>
        ))}
        {ROW_NAMES.map((_, r) => [0, 1].map((c) => <PanelText key={`t${r}-${c}`} row={r} col={c} />))}
        {[0, 1].map((c) => (
          <text key={`xl${c}`} x={PLOT_LEFT[c] + PW / 2} y={4085} textAnchor="middle" fontSize={8.6} fill="#000">
            Movement Phase
          </text>
        ))}
      </svg>
    </div>
  );
}
